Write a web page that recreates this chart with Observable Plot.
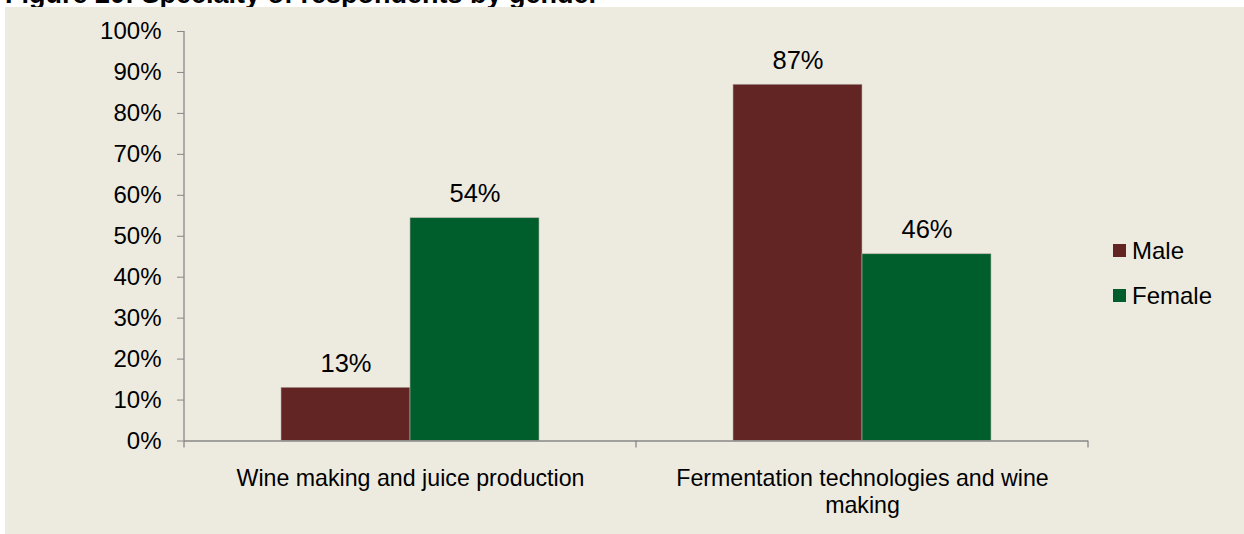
<!DOCTYPE html>
<html>
<head>
<meta charset="utf-8">
<script src="https://cdn.jsdelivr.net/npm/d3@7"></script>
<script src="https://cdn.jsdelivr.net/npm/@observablehq/plot@0.6"></script>
<style>
  html, body { margin: 0; padding: 0; background: #ffffff; width: 1244px; height: 534px; overflow: hidden; }
  body { position: relative; font-family: "Liberation Sans", Arial, sans-serif; }
  #title { position: absolute; left: 5px; top: -19px; font-size: 27px; line-height: 27px; font-weight: bold; color: #000; white-space: nowrap; z-index: 0; }
  #chart { position: absolute; left: 5px; top: 7px; z-index: 1; line-height: 0; }
  #legend { position: absolute; left: 1113px; top: 236px; z-index: 2; font-size: 24px; color: #000; }
  .item { display: flex; align-items: center; height: 29px; margin-bottom: 16px; }
  .sw { width: 13px; height: 13px; margin-right: 6px; }
</style>
</head>
<body>
<div id="title">Figure 20: Specialty of respondents by gender</div>
<div id="chart"></div>
<div id="legend"></div>
<script>
// ---- data ----
const categories = ["Wine making and juice production", "Fermentation technologies and wine making"];
const categoryLabels = ["Wine making and juice production", "Fermentation technologies and wine\nmaking"];
const series = ["Male", "Female"];
const maleValues = [13, 87];
const femaleValues = [54.4, 45.6];
const yTicks = [0, 10, 20, 30, 40, 50, 60, 70, 80, 90, 100];
const seriesColors = ["#632523", "#005E2C"];

const data = [];
categories.forEach((c, i) => {
  data.push({category: c, series: "Male", value: maleValues[i]});
  data.push({category: c, series: "Female", value: femaleValues[i]});
});

const axisGray = "#878787";
const W = 1239, H = 527;

const plot = Plot.plot({
  width: W,
  height: H,
  marginLeft: 178,
  marginRight: 156,
  marginTop: 24,
  marginBottom: 93.5,
  style: {background: "#EDEBE0", fontFamily: "'Liberation Sans', Arial, sans-serif", color: "#000"},
  fx: {domain: categories, paddingInner: 0, paddingOuter: 0, axis: null, label: null},
  x: {domain: series, paddingInner: 0, paddingOuter: 0.75, axis: null, label: null},
  y: {domain: [0, 100], axis: null, label: null},
  color: {domain: series, range: seriesColors},
  marks: [
    Plot.barY(data, {fx: "category", x: "series", y: "value", fill: "series", stroke: "#b8b0a8", strokeWidth: 0.6}),
    Plot.ruleY([0], {stroke: axisGray, strokeWidth: 1.3}),
    Plot.text(data, {fx: "category", x: "series", y: "value", text: d => Math.round(d.value) + "%", lineAnchor: "bottom", dy: -16, fontSize: 25.5, fill: "#000"}),
    Plot.axisY({ticks: yTicks, tickSize: 7, tickPadding: 16, tickFormat: d => d + "%", stroke: axisGray, fill: "#000", fontSize: 24, label: null}),
    Plot.axisFx({anchor: "bottom", tickSize: 0, tickPadding: 26, fontSize: 23.2, lineHeight: 1.17, fill: "#000", label: null,
      tickFormat: d => categoryLabels[categories.indexOf(d)]})
  ]
});

// axis line and category boundary ticks from the plot's own scales
const fx = plot.scale("fx");
const ys = plot.scale("y");
const svg = d3.select(plot.tagName.toLowerCase() === "svg" ? plot : plot.querySelector("svg"));
const y0 = ys.apply(0), y1 = ys.apply(100);
const bw = fx.bandwidth;
const xLeft = fx.apply(categories[0]);
svg.append("line").attr("x1", xLeft).attr("x2", xLeft).attr("y1", y1).attr("y2", y0)
  .attr("stroke", axisGray).attr("stroke-width", 1.3);
const edges = [xLeft, ...categories.map(c => fx.apply(c) + bw)];
edges.forEach(e => {
  svg.append("line").attr("x1", e).attr("x2", e).attr("y1", y0).attr("y2", y0 + 7)
    .attr("stroke", axisGray).attr("stroke-width", 1.3);
});

document.getElementById("chart").appendChild(plot);

// legend
const legend = document.getElementById("legend");
series.forEach((s, i) => {
  const item = document.createElement("div");
  item.className = "item";
  const sw = document.createElement("div");
  sw.className = "sw";
  sw.style.background = seriesColors[i];
  const t = document.createElement("span");
  t.textContent = s;
  item.appendChild(sw);
  item.appendChild(t);
  legend.appendChild(item);
});
</script>
</body>
</html>
